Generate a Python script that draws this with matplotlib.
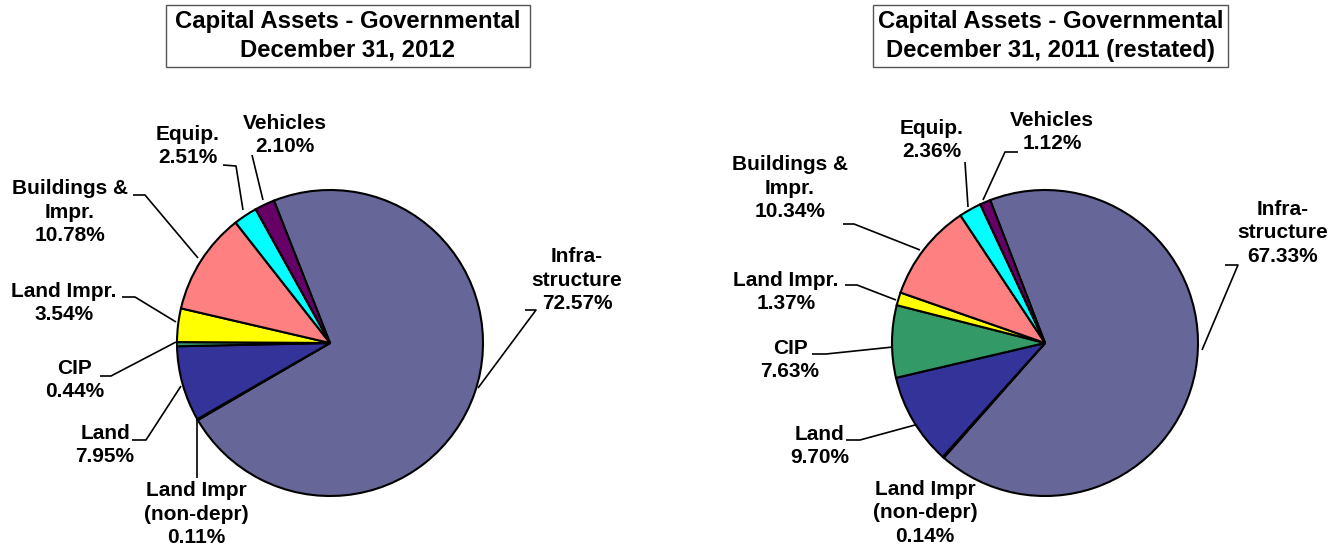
import matplotlib
matplotlib.use("Agg")
import matplotlib.pyplot as plt
from matplotlib.patches import Rectangle

W, H = 1335, 548

# ---- data ----
categories = ["Infra-\nstructure", "Land Impr\n(non-depr)", "Land", "CIP",
              "Land Impr.", "Buildings &\nImpr.", "Equip.", "Vehicles"]
values_2012 = [72.57, 0.11, 7.95, 0.44, 3.54, 10.78, 2.51, 2.10]
values_2011 = [67.33, 0.14, 9.70, 7.63, 1.37, 10.34, 2.36, 1.12]
titles = ["Capital Assets - Governmental\nDecember 31, 2012",
          "Capital Assets - Governmental\nDecember 31, 2011 (restated)"]
colors = ["#666699", "#1a1a4d", "#333399", "#339966",
          "#FFFF00", "#FF8080", "#00FFFF", "#660066"]

plt.rcParams['font.family'] = ['Liberation Sans', 'DejaVu Sans']

fig = plt.figure(figsize=(W / 100, H / 100), dpi=100)
ax = fig.add_axes([0, 0, 1, 1])


def Y(py):
    return H - py


# layout (pixel coords, y from top)
pies = [
    dict(values=values_2012, center=(330, 343), start=111.5, title=titles[0],
         box=(166, 5, 530, 67),
         labels=[  # text center, leader polyline
             ((577, 280), [(525, 310), (536, 310), (478, 388)]),
             ((196, 514), [(197, 418), (197, 478)]),
             ((105, 445), [(132, 440), (146, 440), (181, 386)]),
             ((75, 380), [(100, 376), (111, 376), (176, 342)]),
             ((64, 303), [(122, 297), (135, 297), (176, 322)]),
             ((70, 212), [(133, 195), (145, 195), (198, 258)]),
             ((188, 146), [(223, 165), (236, 166), (243, 210)]),
             ((285, 135), [(252, 155), (263, 200)]),
         ]),
    dict(values=values_2011, center=(1045, 343), start=111.0, title=titles[1],
         box=(873, 5, 1228, 67),
         labels=[
             ((1283, 233), [(1225, 265), (1238, 265), (1202, 350)]),
             ((925, 513), None),
             ((820, 446), [(846, 440), (860, 440), (915, 425)]),
             ((790, 360), [(812, 354), (826, 354), (893, 347)]),
             ((786, 292), [(845, 285), (857, 285), (896, 300)]),
             ((790, 188), [(843, 224), (854, 224), (920, 250)]),
             ((932, 140), [(965, 162), (968, 207)]),
             ((1052, 132), [(1018, 152), (1005, 152), (983, 200)]),
         ]),
]

R = 153
for p in pies:
    cx, cy = p["center"]
    ax.pie(p["values"], colors=colors, startangle=p["start"], counterclock=False,
           center=(cx, Y(cy)), radius=R,
           wedgeprops=dict(edgecolor="black", linewidth=1.5))
    for (name, val, ((tx, ty), leader)) in zip(categories, p["values"], p["labels"]):
        ax.text(tx, Y(ty), f"{name}\n{val:.2f}%", ha="center", va="center",
                fontsize=15, fontweight="bold", linespacing=1.3, color="black")
        if leader:
            xs = [q[0] for q in leader]
            ys = [Y(q[1]) for q in leader]
            ax.plot(xs, ys, color="black", lw=1.2, solid_capstyle="butt")
    x0, y0, x1, y1 = p["box"]
    ax.add_patch(Rectangle((x0, Y(y1)), x1 - x0, y1 - y0, facecolor="white",
                           edgecolor="#555555", lw=1.0))
    ax.text((x0 + x1) / 2, Y((y0 + y1) / 2), p["title"], ha="center", va="center",
            fontsize=17.2, fontweight="bold", linespacing=1.3)

ax.set_xlim(0, W)
ax.set_ylim(0, H)
ax.set_aspect("auto")
ax.axis("off")
fig.savefig("out.png", dpi=100, facecolor="white")
